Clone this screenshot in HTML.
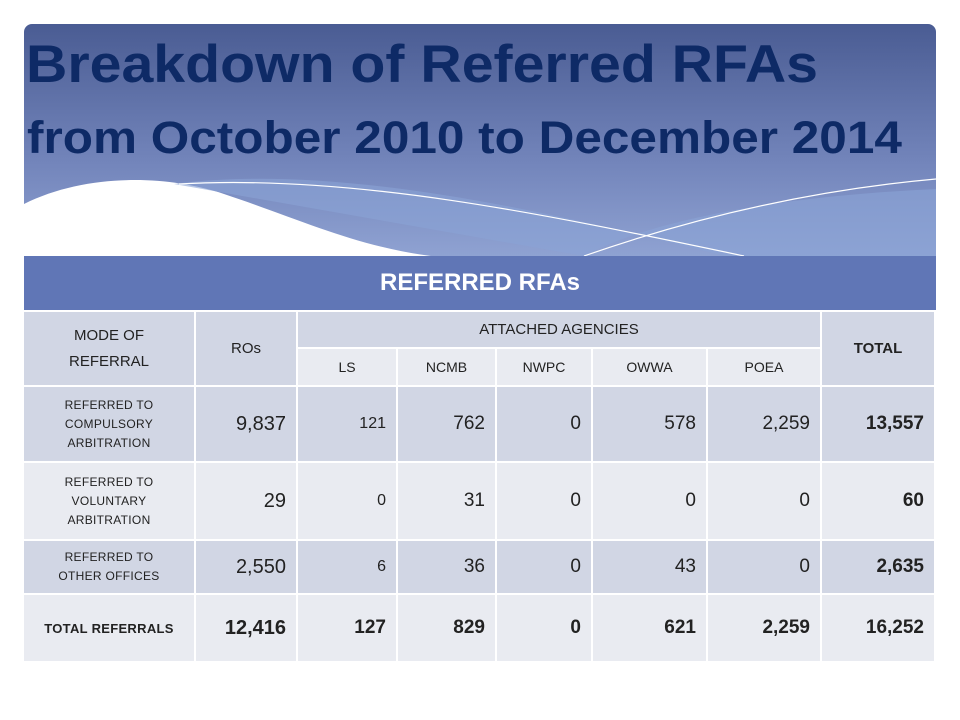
<!DOCTYPE html>
<html><head><meta charset="utf-8"><style>
body{margin:0;width:960px;height:720px;background:#fff;position:relative;overflow:hidden;font-family:"Liberation Sans",sans-serif}
.c{position:absolute;box-sizing:border-box;display:flex;align-items:center;justify-content:center;text-align:center;color:#222;border-right:2px solid #fff;border-bottom:2px solid #fff}
.d{background:#d1d6e4}.l{background:#e9ebf1}
.n{justify-content:flex-end;padding-right:10px;font-size:19px}
.lab{font-size:12px;line-height:19px;letter-spacing:0.3px}
.b{font-weight:bold}
</style></head><body>
<div style="position:absolute;left:24px;top:24px;width:912px;height:232px;border-radius:8px 8px 0 0;overflow:hidden;background:linear-gradient(#4a5c93,#7385bb 60%,#8fa2d2)">
<svg width="912" height="232" style="position:absolute;left:0;top:0">
<path d="M0 180 C60 150,140 150,200 170 C320 210,380 250,560 232 L0 232Z" fill="#fff"/>
<path d="M150 160 C300 140,500 180,700 232 L912 232 L912 165 C700 175,600 210,560 232Z" fill="#8aa3d6" opacity="0.6"/>
<path d="M155 160 C330 150,520 190,720 232" stroke="#fff" stroke-width="1.2" fill="none"/>
<path d="M560 232 C680 190,800 165,912 155" stroke="#fff" stroke-width="1.2" fill="none"/>
</svg>
<div style="position:absolute;left:2px;top:10px;font-size:53px;font-weight:bold;color:#0e2a66;white-space:nowrap;transform:scaleX(1.08);transform-origin:left">Breakdown of Referred RFAs</div>
<div style="position:absolute;left:3px;top:88px;font-size:45px;font-weight:bold;color:#0e2a66;white-space:nowrap;transform:scaleX(1.1);transform-origin:left">from October 2010 to December 2014</div>
</div>
<div class="c b" style="left:24px;top:256px;width:912px;height:56px;background:#6076b6;color:#fff;font-size:24px;border:none;border-bottom:2px solid #fff">REFERRED RFAs</div>
<div class="c d" style="left:24px;top:312px;width:172px;height:75px;font-size:15px;line-height:26px">MODE OF<br>REFERRAL</div>
<div class="c d" style="left:196px;top:312px;width:102px;height:75px;font-size:15px">ROs</div>
<div class="c d" style="left:298px;top:312px;width:524px;height:37px;font-size:15px">ATTACHED AGENCIES</div>
<div class="c d b" style="left:822px;top:312px;width:114px;height:75px;font-size:15px">TOTAL</div>
<div class="c l" style="left:298px;top:349px;width:100px;height:38px;font-size:14px">LS</div>
<div class="c l" style="left:398px;top:349px;width:99px;height:38px;font-size:14px">NCMB</div>
<div class="c l" style="left:497px;top:349px;width:96px;height:38px;font-size:14px">NWPC</div>
<div class="c l" style="left:593px;top:349px;width:115px;height:38px;font-size:14px">OWWA</div>
<div class="c l" style="left:708px;top:349px;width:114px;height:38px;font-size:14px">POEA</div>
<script>
const rowLabels=["REFERRED TO<br>COMPULSORY<br>ARBITRATION","REFERRED TO<br>VOLUNTARY<br>ARBITRATION","REFERRED TO<br>OTHER OFFICES","TOTAL REFERRALS"];
const roVals=["9,837","29","2,550","12,416"];
const lsVals=["121","0","6","127"];
const ncmbVals=["762","31","36","829"];
const nwpcVals=["0","0","0","0"];
const owwaVals=["578","0","43","621"];
const poeaVals=["2,259","0","0","2,259"];
const totalVals=["13,557","60","2,635","16,252"];
const cols=[[24,172],[196,102],[298,100],[398,99],[497,96],[593,115],[708,114],[822,114]];
const rowsY=[[387,76],[463,78],[541,54],[595,68]];
const colNames=["label","ros","ls","ncmb","nwpc","owwa","poea","total"];
const body=document.body;
rowsY.forEach((r,i)=>{
  const vals=[rowLabels[i],roVals[i],lsVals[i],ncmbVals[i],nwpcVals[i],owwaVals[i],poeaVals[i],totalVals[i]];
  vals.forEach((v,j)=>{
    const el=document.createElement('div');
    
    
    let cls='c '+(i%2==0?'d':'l');
    if(j==0) cls+=' lab'; else cls+=' n';
    if(i==3||j==7) cls+=' b';
    if(j==1) el.style.fontSize='20px';
    if(i==3&&j==0) el.style.fontSize='13px';
    if(j==2&&i<3) el.style.fontSize='16px';
    el.className=cls;
    el.style.left=cols[j][0]+'px';el.style.top=r[0]+'px';
    el.style.width=cols[j][1]+'px';el.style.height=r[1]+'px';
    el.innerHTML=v;
    body.appendChild(el);
  });
});
</script>
</body></html>
